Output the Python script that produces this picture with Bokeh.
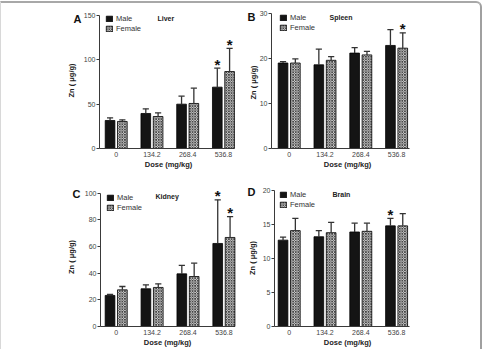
import math
from bokeh.plotting import figure
from bokeh.models import Range1d, FixedTicker, Legend, LegendItem, Label
from bokeh.layouts import column, row
from bokeh.embed import file_html
from bokeh.resources import INLINE
from bokeh.core.properties import value

doses = ["0", "134.2", "268.4", "536.8"]

liver_male = [31.6, 39.5, 50.0, 69.2]
liver_male_sd = [3.0, 5.2, 9.0, 21.4]
liver_female = [30.5, 36.1, 50.8, 86.8]
liver_female_sd = [1.8, 4.1, 17.2, 26.2]
liver_star_male = [False, False, False, True]
liver_star_female = [False, False, False, True]

spleen_male = [19.0, 18.6, 21.2, 22.9]
spleen_male_sd = [0.3, 3.5, 1.2, 3.5]
spleen_female = [19.0, 19.6, 20.8, 22.3]
spleen_female_sd = [0.9, 0.8, 0.8, 3.4]
spleen_star_male = [False, False, False, False]
spleen_star_female = [False, False, False, True]

kidney_male = [23.3, 28.3, 39.5, 62.3]
kidney_male_sd = [0.7, 3.0, 6.3, 32.7]
kidney_female = [27.5, 29.3, 37.5, 66.8]
kidney_female_sd = [2.5, 2.7, 10.0, 15.7]
kidney_star_male = [False, False, False, True]
kidney_star_female = [False, False, False, True]

brain_male = [12.7, 13.2, 13.9, 14.8]
brain_male_sd = [0.45, 0.9, 1.3, 1.1]
brain_female = [14.1, 13.8, 14.0, 14.8]
brain_female_sd = [1.8, 1.5, 1.2, 1.8]
brain_star_male = [False, False, False, True]
brain_star_female = [False, False, False, False]

liver_ticks = [0, 50, 100, 150]
spleen_ticks = [0, 10, 20, 30]
kidney_ticks = [0, 20, 40, 60, 80, 100]
brain_ticks = [0, 5, 10, 15, 20]

FONT = "Liberation Sans"
OFF = 0.172
BW = 0.27
ITEM_H = 9


def panel(letter, organ, male, male_sd, female, female_sd, sm, sf, ticks, g):
    # g: pixel geometry of this panel in the page
    x0, y0, w, h = g["fig"]
    unit = g["unit"]
    ppu_y = (g["ybase"] - g["ytop"]) / (ticks[-1] - ticks[0])
    xs_ = -(g["g0"] - x0) / unit
    xe_ = xs_ + w / unit
    ys_ = -(y0 + h - g["ybase"]) / ppu_y
    ye_ = ys_ + h / ppu_y

    def dx(px):
        return xs_ + (px - x0) / unit

    def dy(py):
        return ys_ + (y0 + h - py) / ppu_y

    p = figure(width=w, height=h, output_backend="svg", toolbar_location=None,
               x_range=Range1d(xs_, xe_), y_range=Range1d(ys_, ye_),
               min_border_left=0, min_border_right=0, min_border_top=0,
               min_border_bottom=0)
    p.outline_line_color = None
    p.grid.visible = False
    p.background_fill_color = None
    p.border_fill_color = None
    idx = list(range(len(doses)))
    xm = [i - OFF for i in idx]
    xf = [i + OFF for i in idx]
    rm = p.vbar(x=xm, top=male, width=BW, bottom=0, fill_color="#141414",
                line_color="#000000", line_width=0.8)
    rf = p.vbar(x=xf, top=female, width=BW, bottom=0, fill_color="#ffffff",
                line_color="#000000", line_width=0.8,
                hatch_pattern="diagonal_cross", hatch_color="#444444",
                hatch_scale=2.6, hatch_weight=1.0)
    cw = BW * 0.32
    for xs, m, s in ((xm, male, male_sd), (xf, female, female_sd)):
        tops = [a + b for a, b in zip(m, s)]
        p.segment(x0=xs, y0=m, x1=xs, y1=tops, line_color="#333333", line_width=1.3)
        p.segment(x0=[x - cw for x in xs], y0=tops, x1=[x + cw for x in xs], y1=tops,
                  line_color="#333333", line_width=1.3)
    sx, sy = [], []
    for i in idx:
        if sm[i]:
            sx.append(xm[i]); sy.append(male[i] + male_sd[i])
        if sf[i]:
            sx.append(xf[i]); sy.append(female[i] + female_sd[i])
    if sx:
        p.text(x=sx, y=sy, text=["*"] * len(sx), text_align="center",
               text_baseline="alphabetic", y_offset=-4, text_font=value(FONT),
               text_font_size="15px", text_font_style="bold", text_color="#111111")

    xa0 = dx(g["yaxis"])
    xa1 = dx(g["xend"])
    p.xaxis.ticker = FixedTicker(ticks=idx)
    p.xaxis.major_label_overrides = {i: d for i, d in zip(idx, doses)}
    p.xaxis.fixed_location = 0
    p.xaxis.bounds = (xa0, xa1)
    p.yaxis.ticker = FixedTicker(ticks=ticks)
    p.yaxis.fixed_location = xa0
    p.yaxis.bounds = (ticks[0], ticks[-1])
    for ax in (p.xaxis, p.yaxis):
        ax.axis_line_color = "#3a3a3a"
        ax.axis_line_width = 1
        ax.major_tick_line_color = "#3a3a3a"
        ax.minor_tick_line_color = None
        ax.major_label_text_font = FONT
        ax.major_label_text_font_size = "7px"
        ax.major_label_text_color = "#444444"
    p.xaxis.major_tick_out = 0
    p.xaxis.major_tick_in = 0
    p.xaxis.major_label_standoff = 3
    p.yaxis.major_tick_out = 3
    p.yaxis.major_tick_in = 0
    p.yaxis.major_label_standoff = 1

    def lab(text, px, py, size, align="center", angle=0.0, color="#222222"):
        p.add_layout(Label(x=dx(px), y=dy(py), text=text, text_font=FONT,
                           text_font_style="bold", text_font_size=size,
                           text_align=align, text_baseline="middle",
                           angle=angle, text_color=color))

    lab("Dose (mg/kg)", g["xlab"][0], g["xlab"][1], "7.5px")
    lab("Zn ( \u03bcg/g)", g["ylab"][0], g["ylab"][1], "7.5px", angle=math.pi / 2)
    lab(letter, g["letter"][0], g["letter"][1], "11px", color="#111111")
    lab(organ, g["organ"][0], g["organ"][1], "7px", align="left")

    lx, ly = g["legend"]
    bottom = ly + 2 * ITEM_H - 1 + 2.5
    legend = Legend(items=[LegendItem(label="Male", renderers=[rm]),
                           LegendItem(label="Female", renderers=[rf])],
                    location=(lx - x0, y0 + h - bottom), padding=0, margin=0,
                    spacing=1, glyph_width=8, glyph_height=7, label_height=ITEM_H,
                    label_standoff=3, border_line_color=None,
                    background_fill_alpha=0, label_text_line_height=1.0,
                    label_text_font=FONT, label_text_font_size="7.5px",
                    label_text_color="#333333")
    p.add_layout(legend)
    return p


geomA = dict(fig=(1, 3, 241, 172), yaxis=99, g0=115.7, unit=35.75, ybase=148, ytop=15,
             xend=233, xlab=(168, 164), ylab=(71, 80), letter=(77, 18.5),
             organ=(157, 17.5), legend=(105, 13.5))
geomB = dict(fig=(242, 3, 238, 172), yaxis=271, g0=288.7, unit=35.8, ybase=148, ytop=13,
             xend=409, xlab=(347, 164), ylab=(252.5, 82), letter=(251, 16.5),
             organ=(329, 16.5), legend=(279, 12.7))
geomC = dict(fig=(1, 175, 241, 174), yaxis=100, g0=115.7, unit=35.9, ybase=326, ytop=192.7,
             xend=233, xlab=(167, 342), ylab=(71, 256.5), letter=(76, 193.3),
             organ=(155, 195.5), legend=(106, 192.3))
geomD = dict(fig=(242, 175, 238, 174), yaxis=274, g0=288.7, unit=35.8, ybase=326, ytop=190,
             xend=409, xlab=(347, 342), ylab=(252, 257.5), letter=(251, 191.7),
             organ=(332, 194), legend=(279, 189))

pA = panel("A", "Liver", liver_male, liver_male_sd, liver_female, liver_female_sd,
           liver_star_male, liver_star_female, liver_ticks, geomA)
pB = panel("B", "Spleen", spleen_male, spleen_male_sd, spleen_female, spleen_female_sd,
           spleen_star_male, spleen_star_female, spleen_ticks, geomB)
pC = panel("C", "Kidney", kidney_male, kidney_male_sd, kidney_female, kidney_female_sd,
           kidney_star_male, kidney_star_female, kidney_ticks, geomC)
pD = panel("D", "Brain", brain_male, brain_male_sd, brain_female, brain_female_sd,
           brain_star_male, brain_star_female, brain_ticks, geomD)

layout = column(row(pA, pB), row(pC, pD),
                styles={"border-top": "2px solid #a8a8a8",
                        "border-left": "1px solid #d8d8d8",
                        "border-right": "2px solid #a0a0a0",
                        "border-top-right-radius": "6px",
                        "margin-top": "1px"})

open("out.html", "w").write(file_html(layout, INLINE))
